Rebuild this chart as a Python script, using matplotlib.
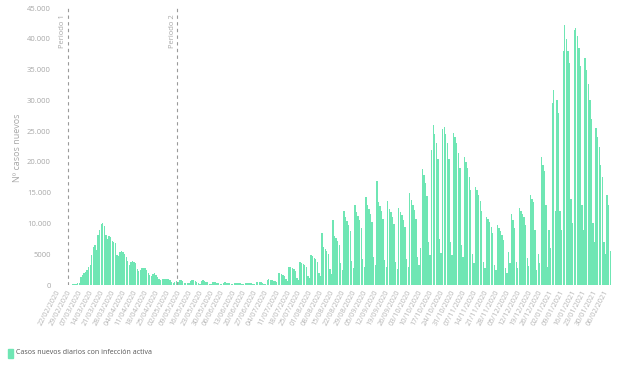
import matplotlib
matplotlib.use("Agg")
import matplotlib.pyplot as plt
import matplotlib.transforms as mtransforms
import pandas as pd

# categories: one bar per day
start_date = "2020-02-22"
end_date = "2021-02-10"
dates = pd.date_range(start_date, end_date, freq="D")

# daily values, one row per week (Sat..Fri)
cases = [
    0, 0, 2, 3, 5, 8, 15,
    20, 25, 40, 60, 90, 130, 180,
    300, 400, 1300, 1700, 2000, 2100, 2400,
    2900, 3300, 4900, 6200, 6500, 5700, 8100,
    9000, 9900, 10100, 9600, 8100, 7500, 7900,
    7800, 7200, 7000, 6900, 4900, 4700, 5400,
    5500, 5300, 5000, 4500, 3900, 3300, 3700,
    3900, 3800, 3500, 2600, 2300, 2500, 2700,
    2800, 2700, 2400, 2000, 1600, 1500, 1800,
    1900, 1700, 1300, 1000, 800, 900, 1000,
    950, 900, 950, 800, 500, 400, 500,
    600, 500, 800, 850, 700, 400, 350,
    300, 250, 700, 800, 750, 650, 500,
    250, 200, 700, 750, 600, 550, 450,
    200, 150, 500, 550, 450, 400, 350,
    150, 120, 400, 420, 380, 350, 300,
    120, 100, 300, 320, 280, 270, 250,
    100, 90, 320, 350, 300, 280, 260,
    110, 100, 450, 500, 480, 420, 380,
    150, 120, 800, 900, 850, 750, 700,
    600, 450, 2000, 1900, 1800, 1700, 1500,
    900, 650, 3000, 2850, 2700, 2550, 2250,
    1150, 850, 3800, 3600, 3400, 3200, 2850,
    1500, 1100, 4900, 4650, 4400, 4150, 3700,
    2000, 1400, 8400, 6200, 5900, 5600, 5000,
    2600, 1800, 10500, 8000, 7600, 7200, 6500,
    3600, 2500, 12100, 11000, 10400, 9800, 8700,
    3900, 2700, 13000, 11800, 11200, 10500, 9300,
    4300, 3000, 14300, 13000, 12300, 11600, 10300,
    4500, 3200, 16900, 13500, 12800, 12000, 10700,
    4100, 2900, 13700, 12400, 11800, 11100, 9900,
    3800, 2600, 12500, 11900, 11300, 10600, 9400,
    4200, 3000, 15000, 13800, 13000, 12200, 10800,
    4500, 3300, 6000, 18900, 17800, 16500, 14500,
    7000, 4800, 22000, 26000, 24500, 23000, 20500,
    7500, 5200, 25300, 25700, 24500, 23000, 20500,
    7000, 4800, 24700, 24000, 23000, 21500, 19000,
    6500, 4500, 20800, 20000, 19000, 17500, 15500,
    5000, 3600, 16000, 15400, 14600, 13600, 12000,
    3800, 2800, 11100, 10700, 10200, 9500, 8500,
    3300, 2400, 9700, 9300, 8800, 8200, 7300,
    2800, 2000, 5400, 3500, 11600, 10500, 9200,
    3800, 2700, 12500, 12000, 11600, 11000, 9800,
    4400, 3100, 14600, 14000, 13500, 9000, 2500,
    5000, 3500, 20800, 19500, 18500, 13000, 3000,
    9000, 6000, 29600, 31700, 12000, 30000, 28000,
    12000, 9000, 38000, 42200, 40000, 38000, 36000,
    14000, 10000, 41500, 41700, 40500, 38500, 35500,
    13000, 9000, 36800, 35000, 32700, 30000, 27000,
    10000, 7000, 25500, 24000, 22500, 19500, 17500,
    7000, 5000, 14600, 13000, 5500,
]

period_labels = ["Periodo 1", "Periodo 2"]
period_starts = ["2020-03-01", "2020-05-10"]

y_ticks = [0, 5000, 10000, 15000, 20000, 25000, 30000, 35000, 40000, 45000]
y_tick_labels = ["0", "5000", "10.000", "15.000", "20.000", "25.000",
                 "30.000", "35.000", "40.000", "45.000"]

legend_label = "Casos nuevos diarios con infección activa"
y_label = "Nº casos nuevos"

bar_color = "#6fe6b4"
grey = "#a8a8a8"

plt.rcParams["font.family"] = ["Open Sans", "DejaVu Sans"]

fig = plt.figure(figsize=(6.2, 3.68), dpi=100)
ax = fig.add_axes([55 / 620, 1 - 285 / 368, 556 / 620, 277 / 368])

x = list(range(len(dates)))
ax.bar(x, cases, width=0.85, color=bar_color, linewidth=0)

ax.set_xlim(-0.5, len(dates) - 0.5)
ax.set_ylim(0, 45000)
ax.set_yticks(y_ticks)
ax.set_yticklabels(y_tick_labels, fontsize=5.5, color=grey)

tick_idx = list(range(0, len(dates), 7))
ax.set_xticks(tick_idx)
ax.set_xticklabels([dates[i].strftime("%d/%m/%Y") for i in tick_idx],
                   rotation=62, ha="right", rotation_mode="anchor",
                   fontsize=5.3, color="#b5b5b5")
ax.tick_params(axis="both", length=0, pad=3)
for s in ax.spines.values():
    s.set_visible(False)

date_list = list(dates)
for lab, d in zip(period_labels, period_starts):
    xi = date_list.index(pd.Timestamp(d)) - 0.5
    ax.axvline(xi, color="#9a9a9a", linestyle=(0, (3, 3)), linewidth=0.8)
    off = mtransforms.offset_copy(ax.transData, fig=fig, x=-5, y=0, units="dots")
    ax.text(xi, 44000, lab, rotation=90, ha="center", va="top",
            fontsize=5.5, color=grey,
            transform=mtransforms.blended_transform_factory(off, ax.transData))

fig.text(18 / 620, 1 - 148 / 368, y_label, rotation=90, ha="center", va="center",
         fontsize=6.5, color=grey)

fig.patches.append(plt.Rectangle((8 / 620, 1 - 358 / 368), 5 / 620, 9 / 368,
                                 transform=fig.transFigure, color=bar_color))
fig.text(16 / 620, 1 - 353 / 368, legend_label, ha="left", va="center",
         fontsize=5, color="#555555")

fig.savefig("out.png", dpi=100, facecolor="white")
